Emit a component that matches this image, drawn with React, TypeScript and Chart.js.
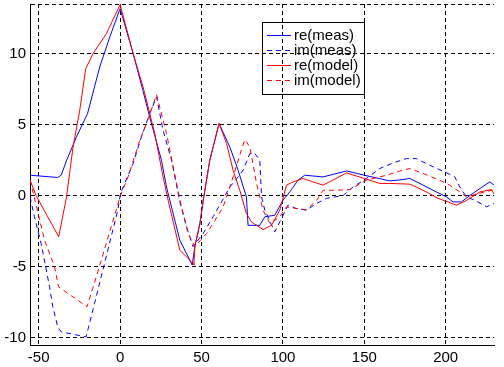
import React, { useEffect, useRef } from 'react';
import { Chart, registerables } from 'chart.js';

Chart.register(...registerables);

const xTicks = [-50, 0, 50, 100, 150, 200];
const yTicks = [-10, -5, 0, 5, 10];
const xMin = -55.34;
const xMax = 229.67;
const yMin = -10.53;
const yMax = 13.49;

const seriesLabels = ['re(meas)', 'im(meas)', 're(model)', 'im(model)'];

const reMeasX = [-55.3, -38.3, -36.2, -32.8, -26.8, -20, -12.5, -6.3, 0, 8, 14, 18.2, 25.4, 28.5, 36.7, 44.3, 45.9, 49, 51.4, 55.1, 60.8, 67.4, 72.5, 77.6, 78.6, 85.8, 88.9, 95, 100.1, 104.2, 109.3, 113.4, 124.7, 139.1, 150, 165.7, 171.8, 178, 186.1, 194.3, 200.5, 204.5, 209.7, 214.8, 221, 227.1, 229.7];
const reMeasY = [1.43, 1.27, 1.43, 2.49, 4.13, 5.77, 9.06, 11.17, 13.17, 10.0, 7.4, 5.53, 2.49, 0.6, -3.15, -4.9, -3.6, -2.0, -0.1, 2.49, 5.07, 3.42, 1.78, -0.1, -2.1, -2.1, -1.5, -1.39, -0.33, 0.25, 1.08, 1.43, 1.31, 1.73, 1.43, 1.03, 1.1, 1.2, 0.73, 0.25, -0.1, -0.45, -0.45, 0, 0.49, 0.96, 0.73];

const imMeasX = [-55.3, -52.6, -48.5, -46.9, -43.4, -41.3, -38.3, -36.2, -20.9, -15.7, -9.6, -1.4, 0.2, 8, 13.1, 18.2, 22.4, 26.4, 31.6, 36.7, 40.8, 44.8, 51, 57.1, 62.3, 67.4, 72.5, 75.6, 79.7, 82.7, 85.8, 86.9, 88.9, 95, 98.1, 103.2, 108.3, 114.5, 120.6, 126.8, 137, 143.1, 151.3, 159.5, 167.7, 175.9, 182, 190.2, 199.4, 205.6, 208.7, 212.8, 217.9, 225.1, 229.7];
const imMeasY = [-0.1, -1.5, -3.38, -4.3, -6.4, -7.84, -9.25, -9.6, -9.96, -7.6, -4.8, -1.03, 0.14, 2.25, 4.13, 5.77, 6.94, 4.6, 2.49, -0.45, -2.2, -3.6, -2.68, -1.5, -0.45, 0.6, 1.31, 1.8, 2.96, 2.96, 2.5, -0.1, -1.03, -2.56, -1.86, -0.68, -0.92, -1.03, -0.56, -0.2, 0, 0.6, 1.2, 1.9, 2.3, 2.6, 2.6, 2.13, 1.66, 1.31, 0.6, -0.1, -0.33, -0.8, -0.56];

const reModelX = [-55.3, -51.6, -37.7, -32.9, -28.9, -24.8, -21.1, -16.6, -8.4, 0, 8, 14.1, 21.3, 26.4, 29.5, 36.7, 44.8, 45.3, 45.9, 49, 51.4, 55.1, 60.8, 65.4, 69.4, 73.5, 77.6, 80.7, 87.8, 93, 98.1, 100.5, 102.2, 106.3, 112.4, 118.5, 124.7, 139.1, 150, 159.5, 165.7, 178, 186.1, 195.3, 206.6, 212.8, 221, 228.1, 229.7];
const reModelY = [1.08, 0, -2.91, -0.1, 3.42, 6.0, 8.94, 10.0, 11.4, 13.45, 10.0, 7.65, 4.37, 1.31, -0.33, -3.85, -4.79, -4.9, -3.6, -1.97, -0.1, 2.49, 5.07, 3.66, 1.78, 0.37, -1.27, -1.86, -2.4, -2.1, -1.03, 0, 0.73, 0.96, 1.2, 0.96, 0.73, 1.59, 1.2, 0.85, 0.85, 0.8, 0.37, -0.2, -0.68, -0.35, 0.25, 0.42, 0.1];

const imModelX = [-55.3, -46.4, -40.3, -37.8, -20.3, -12.7, 0.2, 4.9, 12.1, 16.2, 22.4, 28.5, 36.7, 41.8, 45.9, 53.1, 57.1, 63.3, 69.4, 73.5, 76.6, 79.7, 83.8, 87.8, 92, 98.1, 102.2, 108.3, 114.5, 120.6, 124.7, 132.9, 141.1, 151.3, 163.6, 171.8, 178, 186.1, 195.3, 202.5, 208.7, 212.8, 219, 228.1, 229.7];
const imModelY = [1.1, -3.15, -5.0, -6.43, -7.84, -5.0, 0, 1.31, 3.9, 5.07, 7.1, 4.37, -0.3, -2.68, -3.6, -2.68, -1.97, -0.8, 1.31, 2.84, 3.94, 3.42, 0.85, -1.03, -1.97, -1.5, -0.8, -0.92, -1.0, -0.35, 0.37, 0.37, 0.42, 1.08, 1.43, 1.73, 1.9, 1.55, 1.13, 0.73, 0.25, -0.1, 0.1, 0.37, 0.15];

const FONT = '"Liberation Sans", Arial, sans-serif';

const toPoints = (xs: number[], ys: number[]) => xs.map((x, i) => ({ x, y: ys[i] }));

const boxLegend = {
  id: 'boxLegend',
  afterDatasetsDraw(chart: any) {
    const ctx = chart.ctx as CanvasRenderingContext2D;
    const ds = chart.data.datasets;
    ctx.save();
    ctx.lineWidth = 1;
    ctx.setLineDash([]);
    ctx.strokeStyle = '#000';
    ctx.strokeRect(262.5, 22.5, 102, 72);
    ctx.font = `15px ${FONT}`;
    ctx.textBaseline = 'middle';
    ctx.textAlign = 'left';
    ds.forEach((d: any, i: number) => {
      const y = 35.5 + i * 15;
      ctx.strokeStyle = d.borderColor;
      ctx.setLineDash(d.borderDash || []);
      ctx.beginPath();
      ctx.moveTo(267, y);
      ctx.lineTo(291, y);
      ctx.stroke();
      ctx.fillStyle = '#000';
      ctx.fillText(d.label, 294, y + 0.5);
    });
    ctx.restore();
  },
};

export default function App() {
  const ref = useRef<HTMLCanvasElement>(null);
  useEffect(() => {
    if (!ref.current) return;
    const dashed = [5, 4];
    const chart = new Chart(ref.current, {
      type: 'line',
      data: {
        datasets: [
          { label: seriesLabels[0], data: toPoints(reMeasX, reMeasY), borderColor: '#0000ff', borderDash: [], order: 4 },
          { label: seriesLabels[1], data: toPoints(imMeasX, imMeasY), borderColor: '#0000ff', borderDash: dashed, order: 3 },
          { label: seriesLabels[2], data: toPoints(reModelX, reModelY), borderColor: '#ff0000', borderDash: [], order: 2 },
          { label: seriesLabels[3], data: toPoints(imModelX, imModelY), borderColor: '#ff0000', borderDash: dashed, order: 1 },
        ] as any,
      },
      options: {
        animation: false,
        responsive: false,
        devicePixelRatio: 1,
        layout: { padding: { top: 4, right: 10, left: 0, bottom: 0 } },
        elements: {
          point: { radius: 0, hoverRadius: 0 },
          line: { borderWidth: 1, tension: 0, fill: false },
        },
        plugins: { legend: { display: false }, tooltip: { enabled: false } },
        events: [],
        scales: {
          x: {
            type: 'linear',
            min: xMin,
            max: xMax,
            afterBuildTicks: (s: any) => { s.ticks = xTicks.map((v) => ({ value: v })); },
            afterFit: (s: any) => { s.height = 22; s.paddingLeft = 0; s.paddingRight = 0; },
            ticks: {
              autoSkip: false,
              maxRotation: 0,
              padding: 4,
              color: '#000',
              font: { family: FONT, size: 15 },
              callback: (v: any) => String(v),
            },
            grid: { color: '#000', lineWidth: 1, drawTicks: false },
            border: { display: true, color: '#000', width: 1, dash: [4, 3] },
          },
          y: {
            type: 'linear',
            min: yMin,
            max: yMax,
            afterBuildTicks: (s: any) => { s.ticks = [...yTicks, yMax].map((v) => ({ value: v })); },
            afterFit: (s: any) => { s.width = 30; s.paddingTop = 0; s.paddingBottom = 0; },
            ticks: {
              autoSkip: false,
              padding: 4,
              color: '#000',
              font: { family: FONT, size: 15 },
              callback: (v: any) => (yTicks.includes(v) ? String(v) : ''),
            },
            grid: { color: '#000', lineWidth: 1, drawTicks: false },
            border: { display: true, color: '#000', width: 1, dash: [4, 3] },
          },
        },
      },
      plugins: [boxLegend],
    });
    return () => chart.destroy();
  }, []);
  return (
    <div style={{ position: 'absolute', left: 0, top: 0, width: 504, height: 367, background: '#fff' }}>
      <canvas ref={ref} width={504} height={367} style={{ display: 'block', width: 504, height: 367 }} />
    </div>
  );
}
